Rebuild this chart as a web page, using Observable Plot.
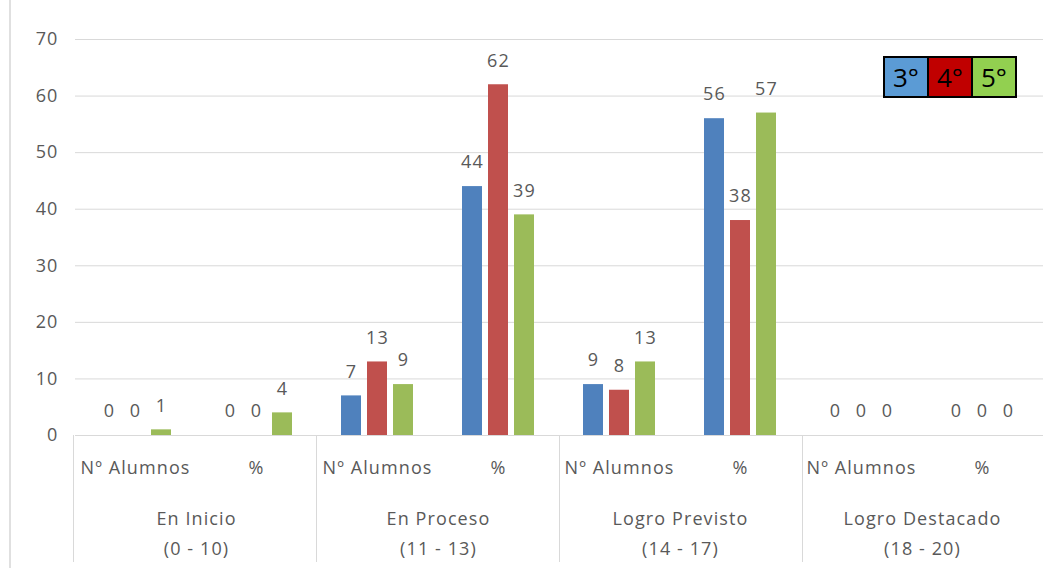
<!DOCTYPE html>
<html>
<head>
<meta charset="utf-8">
<script src="https://cdn.jsdelivr.net/npm/d3@7"></script>
<script src="https://cdn.jsdelivr.net/npm/@observablehq/plot@0.6"></script>
<style>
  body { margin: 0; background: #fff; }
  #wrap { position: relative; width: 1062px; height: 568px; overflow: hidden; background: #fff; }
  #edge { position: absolute; left: 9px; top: 0; width: 2px; height: 568px; background: #e0e0e0; }
  #chart svg text { letter-spacing: 1.1px; }
  #legend { position: absolute; left: 883px; top: 56px; display: flex; border: 2px solid #000; }
  #legend span { display: block; width: 42px; height: 38px; line-height: 38px; text-align: center;
    font-family: "Open Sans", Lato, sans-serif; font-size: 26px; color: #000; }
  #legend span + span { border-left: 2px solid #000; }
</style>
</head>
<body>
<div id="wrap">
  <div id="edge"></div>
  <div id="chart"></div>
  <div id="legend"></div>
</div>
<script>
// ---- data ----
const categories = ["En Inicio\n(0 - 10)", "En Proceso\n(11 - 13)", "Logro Previsto\n(14 - 17)", "Logro Destacado\n(18 - 20)"];
const measures = ["Nº Alumnos", "%"];
const grades = ["3°", "4°", "5°"];
// values per (category, measure): [Inicio Nº, Inicio %, Proceso Nº, Proceso %, Previsto Nº, Previsto %, Destacado Nº, Destacado %]
const values3 = [0, 0, 7, 44, 9, 56, 0, 0];
const values4 = [0, 0, 13, 62, 8, 38, 0, 0];
const values5 = [1, 4, 9, 39, 13, 57, 0, 0];
const yTicks = [0, 10, 20, 30, 40, 50, 60, 70];
const barColors = ["#4f81bd", "#c0504d", "#9bbb59"];
const legendColors = ["#5b9bd5", "#c00000", "#92d050"];

// ---- table ----
const series = [values3, values4, values5];
const keys = [];
const rows = [];
categories.forEach((cat, ci) => {
  measures.forEach((m, mi) => {
    const key = ci + "|" + mi;
    keys.push(key);
    grades.forEach((g, gi) => {
      rows.push({key, category: cat, measure: m, mi, grade: g, value: series[gi][ci * 2 + mi]});
    });
  });
});

const font = '"Open Sans", Lato, sans-serif';
const textColor = "#595959";

const plot = Plot.plot({
  width: 1062,
  height: 568,
  marginLeft: 73,
  marginRight: 17,
  marginTop: 39,
  marginBottom: 133,
  style: {fontFamily: font, fontSize: "18px", color: textColor, background: "transparent", overflow: "visible"},
  facet: {data: rows, x: "key"},
  fx: {domain: keys, padding: 0, axis: null, label: null},
  x: {domain: grades, paddingInner: 0.22, paddingOuter: 0.86, axis: null},
  y: {domain: [0, 70], ticks: yTicks, tickSize: 0, tickPadding: 17, label: null, tickFormat: d => String(d)},
  color: {domain: grades, range: barColors},
  marks: [
    Plot.ruleY(yTicks, {stroke: "#d9d9d9", strokeWidth: 1}),
    Plot.barY(rows, {x: "grade", y: "value", fill: "grade"}),
    Plot.text(rows, {x: "grade", y: "value", text: d => String(d.value), dy: -24, fill: textColor, fontSize: 18}),
    Plot.text(rows, {filter: d => d.grade === "4°", x: "grade", text: "measure", frameAnchor: "bottom", lineAnchor: "middle", dy: 33, fill: textColor, fontSize: 18}),
    Plot.text(rows, {filter: d => d.mi === 0 && d.grade === "3°", text: "category", frameAnchor: "bottom-right", lineAnchor: "middle", dy: 95, lineHeight: 1.67, textAnchor: "middle", fill: textColor, fontSize: 18})
  ]
});
document.getElementById("chart").appendChild(plot);

// category separator lines below the baseline, positioned with the plot's own scales
const fxs = plot.scale("fx");
const ys = plot.scale("y");
const fxBand = d3.scaleBand().domain(fxs.domain).range(fxs.range).padding(0);
const yLin = d3.scaleLinear().domain(ys.domain).range(ys.range);
const svg = d3.select(plot.tagName.toLowerCase() === "svg" ? plot : plot.querySelector("svg"));
const sepKeys = keys.filter((k, i) => i % 2 === 0);
svg.append("g").selectAll("line").data(sepKeys).join("line")
  .attr("x1", k => Math.round(fxBand(k)) + 0.5)
  .attr("x2", k => Math.round(fxBand(k)) + 0.5)
  .attr("y1", yLin(0))
  .attr("y2", 562)
  .attr("stroke", "#d9d9d9");

// legend
const lg = document.getElementById("legend");
grades.forEach((g, i) => {
  const s = document.createElement("span");
  s.textContent = g;
  s.style.background = legendColors[i];
  lg.appendChild(s);
});
</script>
</body>
</html>
